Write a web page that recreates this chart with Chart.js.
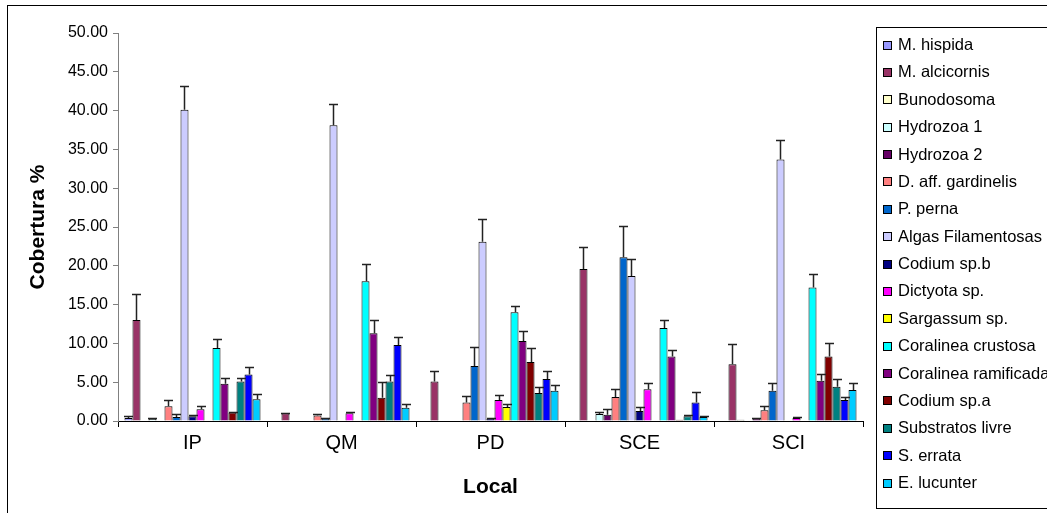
<!DOCTYPE html>
<html><head><meta charset="utf-8">
<script src="https://cdn.jsdelivr.net/npm/chart.js@4/dist/chart.umd.min.js"></script>
<style>html,body{margin:0;padding:0;background:#fff;overflow:hidden}canvas{display:block}</style>
</head><body>
<canvas id="c" width="1047" height="513"></canvas>
<script>
// ---- data ----
const categories = ['IP', 'QM', 'PD', 'SCE', 'SCI'];
const yTickValues = [0, 5, 10, 15, 20, 25, 30, 35, 40, 45, 50];
const xTitle = 'Local';
const yTitle = 'Cobertura %';

const seriesNames = ['M. hispida', 'M. alcicornis', 'Bunodosoma', 'Hydrozoa 1', 'Hydrozoa 2',
  'D. aff. gardinelis', 'P. perna', 'Algas Filamentosas', 'Codium sp.b', 'Dictyota sp.',
  'Sargassum sp.', 'Coralinea crustosa', 'Coralinea ramificada', 'Codium sp.a',
  'Substratos livre', 'S. errata', 'E. lucunter'];

const mHispida      = [0.4, 0, 0, 0, 0];
const mAlcicornis   = [13.0, 1.0, 5.1, 19.6, 7.3];
const bunodosoma    = [0, 0, 0, 0, 0.15];
const hydrozoa1     = [0.25, 0, 0, 0.9, 0];
const hydrozoa2     = [0, 0, 0, 0.8, 0.3];
const dGardinelis   = [1.9, 0.7, 2.4, 3.1, 1.4];
const pPerna        = [0.5, 0.3, 7.1, 21.1, 3.9];
const algasFil      = [40.1, 38.1, 23.1, 18.7, 33.7];
const codiumB       = [0.6, 0, 0.3, 1.3, 0];
const dictyota      = [1.5, 1.0, 2.7, 4.1, 0.4];
const sargassum     = [0, 0, 1.8, 0, 0];
const coralCrust    = [9.4, 18.0, 14.0, 12.0, 17.2];
const coralRamif    = [4.8, 11.3, 10.3, 8.3, 5.2];
const codiumA       = [1.1, 3.0, 7.6, 0.15, 8.3];
const substratos    = [5.1, 5.1, 3.6, 0.6, 4.4];
const sErrata       = [6.0, 9.8, 5.4, 2.4, 2.7];
const eLucunter     = [2.8, 1.7, 3.9, 0.5, 4.0];

const errMHispida    = [0.3, 0, 0, 0, 0];
const errMAlcicornis = [3.4, 0.05, 1.4, 2.8, 2.6];
const errBunodosoma  = [0, 0, 0, 0, 0];
const errHydrozoa1   = [0.2, 0, 0, 0.3, 0];
const errHydrozoa2   = [0, 0, 0, 0.7, 0.15];
const errDGardinelis = [0.85, 0.15, 0.8, 1.0, 0.5];
const errPPerna      = [0.35, 0.15, 2.4, 4.0, 1.0];
const errAlgasFil    = [3.1, 2.7, 2.9, 2.2, 2.5];
const errCodiumB     = [0.15, 0, 0.1, 0.55, 0];
const errDictyota    = [0.4, 0.15, 0.7, 0.85, 0.15];
const errSargassum   = [0, 0, 0.4, 0, 0];
const errCoralCrust  = [1.2, 2.2, 0.85, 1.0, 1.7];
const errCoralRamif  = [0.8, 1.7, 1.3, 0.85, 0.85];
const errCodiumA     = [0.1, 2.0, 1.8, 0, 1.7];
const errSubstratos  = [0.5, 0.85, 0.8, 0.15, 1.0];
const errSErrata     = [1.0, 1.0, 1.0, 1.4, 0.45];
const errELucunter   = [0.65, 0.45, 0.7, 0.1, 0.85];

const seriesValues = [mHispida, mAlcicornis, bunodosoma, hydrozoa1, hydrozoa2, dGardinelis, pPerna,
  algasFil, codiumB, dictyota, sargassum, coralCrust, coralRamif, codiumA, substratos, sErrata, eLucunter];
const seriesErrors = [errMHispida, errMAlcicornis, errBunodosoma, errHydrozoa1, errHydrozoa2, errDGardinelis,
  errPPerna, errAlgasFil, errCodiumB, errDictyota, errSargassum, errCoralCrust, errCoralRamif, errCodiumA,
  errSubstratos, errSErrata, errELucunter];

// ---- styles ----
const seriesColors = ['#9999FF', '#993366', '#FFFFCC', '#CCFFFF', '#660066', '#FF8080', '#0066CC',
  '#CCCCFF', '#000080', '#FF00FF', '#FFFF00', '#00FFFF', '#800080', '#800000', '#008080', '#0000FF', '#00CCFF'];

const FONT = '"Liberation Sans", Arial, Helvetica, sans-serif';
Chart.defaults.font.family = FONT;
Chart.defaults.color = '#000';

const datasets = seriesNames.map((name, i) => ({
  label: name,
  data: seriesValues[i],
  errors: seriesErrors[i],
  backgroundColor: seriesColors[i],
  borderColor: '#000',
  borderWidth: 1,
  borderSkipped: 'start',
  categoryPercentage: 0.913,
  barPercentage: 1.0
}));

const errorBars = {
  id: 'errorBars',
  afterDatasetsDraw(chart) {
    const ctx = chart.ctx, ys = chart.scales.y;
    ctx.save();
    ctx.strokeStyle = '#222';
    ctx.lineWidth = 1.5;
    chart.data.datasets.forEach((ds, di) => {
      const meta = chart.getDatasetMeta(di);
      meta.data.forEach((bar, i) => {
        const e = ds.errors[i];
        if (!e) return;
        const top = Math.round(ys.getPixelForValue(ds.data[i] + e)) + 0.5;
        const x = Math.round(bar.x) + 0.5;
        ctx.beginPath();
        ctx.moveTo(x, bar.y);
        ctx.lineTo(x, top);
        ctx.moveTo(x - 4.5, top);
        ctx.lineTo(x + 4.5, top);
        ctx.stroke();
      });
    });
    ctx.restore();
  }
};

const frameAndLegend = {
  id: 'frameAndLegend',
  afterDraw(chart) {
    const ctx = chart.ctx;
    ctx.save();
    // outer chart frame
    ctx.strokeStyle = '#000';
    ctx.lineWidth = 1;
    ctx.strokeRect(7.5, 5.5, 1200, 600);
    // legend box
    ctx.strokeRect(876.5, 27.5, 300, 481);
    ctx.font = '16.5px ' + FONT;
    ctx.textBaseline = 'middle';
    ctx.textAlign = 'left';
    chart.data.datasets.forEach((ds, i) => {
      const cy = 44.5 + 27.375 * i;
      const by = Math.round(cy - 4) + 0.5;
      ctx.fillStyle = ds.backgroundColor;
      ctx.fillRect(883.5, by, 8, 8);
      ctx.strokeStyle = '#000';
      ctx.strokeRect(883.5, by, 8, 8);
      ctx.fillStyle = '#000';
      ctx.fillText(ds.label, 898, cy + 1);
    });
    ctx.restore();
  }
};

new Chart(document.getElementById('c').getContext('2d'), {
  type: 'bar',
  data: { labels: categories, datasets },
  plugins: [errorBars, frameAndLegend],
  options: {
    responsive: false,
    animation: false,
    layout: { padding: { left: 0, top: 33, right: 184, bottom: 0 } },
    plugins: { legend: { display: false }, tooltip: { enabled: false } },
    scales: {
      x: {
        grid: { display: true, offset: true, drawOnChartArea: false, drawTicks: true, tickLength: 6, color: '#000' },
        border: { display: true, color: '#000', width: 1 },
        ticks: { font: { size: 20 }, color: '#000', padding: 4, maxRotation: 0 },
        title: { display: true, text: xTitle, font: { size: 21, weight: 'bold' }, color: '#000', padding: { top: 0, bottom: 13 } },
        afterFit(scale) { scale.height = 92; }
      },
      y: {
        min: 0, max: 50,
        afterBuildTicks(scale) { scale.ticks = yTickValues.map(v => ({ value: v })); },
        grid: { display: true, drawOnChartArea: false, drawTicks: true, tickLength: 5, color: '#808080' },
        border: { display: true, color: '#808080', width: 1 },
        ticks: { font: { size: 16 }, color: '#000', padding: 5, callback: v => Number(v).toFixed(2) },
        title: { display: true, text: yTitle, font: { size: 21, weight: 'bold' }, color: '#000', padding: { top: 26, bottom: 0 } },
        afterFit(scale) { scale.width = 118; }
      }
    }
  }
});
</script>
</body></html>
